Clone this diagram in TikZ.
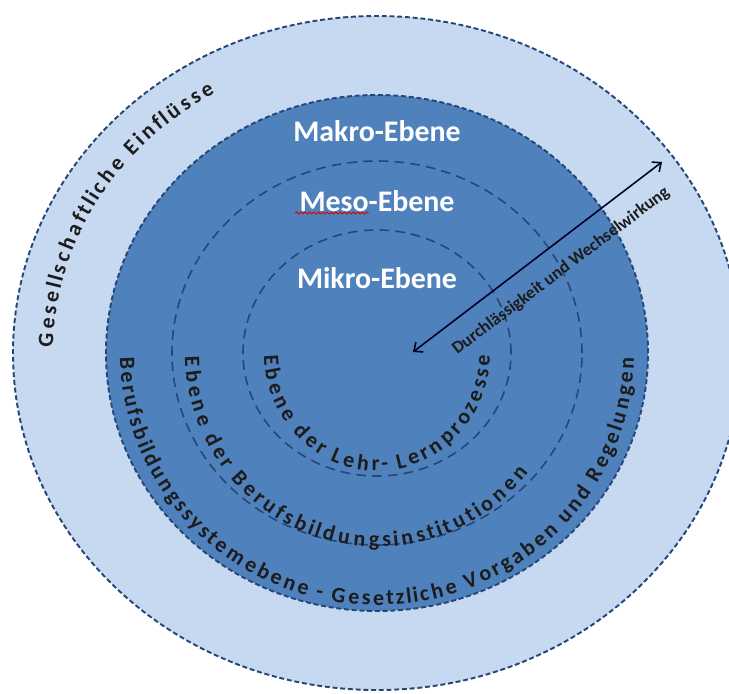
\documentclass[tikz,border=0pt]{standalone}
\usepackage{fontspec}
\setmainfont{Carlito}
\usetikzlibrary{decorations.text,decorations.pathmorphing,arrows.meta}
\definecolor{ringlight}{RGB}{198,217,241}
\definecolor{ringdark}{RGB}{79,129,189}
\definecolor{dashblue}{RGB}{38,70,120}
\definecolor{labelgray}{RGB}{28,28,28}
\newcommand{\ringfont}{\fontsize{12.5}{15}\selectfont\bfseries}
\tikzset{
  ringline/.style={draw=dashblue, line width=1.1pt, dash pattern=on 2.8pt off 1.6pt},
  levelline/.style={draw=dashblue, line width=0.9pt, dash pattern=on 5.5pt off 3.5pt},
  levellabel/.style={text=white, font=\fontsize{17}{20}\selectfont\bfseries},
  ringtext/.style={decorate, decoration={text effects along path, text={#1},
      text effects/.cd, text along path, fit text to path,
      characters={text=labelgray, font=\ringfont}}},
}
\begin{document}
\begin{tikzpicture}[x=0.02cm, y=0.02cm, >={Straight Barb[length=4pt,width=7pt]}]
    \clip (-377,-340) rectangle (352,353);
    \fill[white] (-377,-340) rectangle (352,353);

    % Rings
    \filldraw[fill=ringlight, ringline] (0,0) ellipse [x radius=364, y radius=337];
    \filldraw[fill=ringdark, ringline] (0,0) ellipse [x radius=271, y radius=258];
    \draw[levelline] (0,0) ellipse [x radius=205, y radius=192];
    \draw[levelline] (0,0) ellipse [x radius=134, y radius=123];

    % Level names
    \node[levellabel] (makro) at (0,222) {Makro-Ebene};
    \node[levellabel] (meso) at (0,152) {Meso-Ebene};
    \node[levellabel] (mikro) at (0,75) {Mikro-Ebene};
    \draw[red!85!black, line width=0.5pt, decorate,
        decoration={snake, amplitude=0.6pt, segment length=2.5pt}] (-82,140) -- (-8,140);

    % Curved texts
    {\ringfont
    \path[ringtext={Gesellschaftliche Einflüsse}]
        (179:324 and 300) arc[start angle=179, end angle=120, x radius=324, y radius=300];
    \path[ringtext={Berufsbildungssystemebene -  Gesetzliche Vorgaben und Regelungen}]
        (181:257 and 252) arc[start angle=181, end angle=359, x radius=257, y radius=252];
    \path[ringtext={Ebene der Berufsbildungsinstitutionen}]
        (181:192 and 194) arc[start angle=181, end angle=322, x radius=192, y radius=194];
    \path[ringtext={Ebene der Lehr- Lernprozesse}]
        (181:113 and 118) arc[start angle=181, end angle=359, x radius=113, y radius=118];
    }

    % Arrow
    \coordinate (centre) at (36,1);
    \coordinate (outside) at (285,191);
    \draw[<->, line width=0.9pt, black!85!blue] (centre) -- (outside);
    \node[rotate=37, text=labelgray, font=\fontsize{10}{12}\selectfont\bfseries]
        (flow) at (184,82) {Durchlässigkeit und Wechselwirkung};
\end{tikzpicture}
\end{document}
